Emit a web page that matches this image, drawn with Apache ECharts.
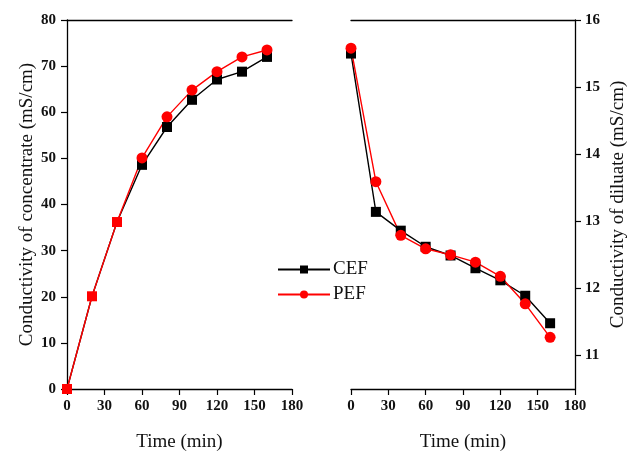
<!DOCTYPE html>
<html><head><meta charset="utf-8">
<script src="https://cdn.jsdelivr.net/npm/echarts@6/dist/echarts.min.js"></script>
<style>html,body{margin:0;padding:0;background:#fff}#c{width:629px;height:452px}</style>
</head><body><div id="c"></div>
<script>
const time = [0, 20, 40, 60, 80, 100, 120, 140, 160];
const concCEF = [0, 20.1, 36.2, 48.6, 56.8, 62.7, 67.1, 68.8, 72.0];
const concPEF = [0, 20.1, 36.2, 50.1, 59.0, 64.8, 68.8, 72.0, 73.5];
const dilCEF = [15.5, 13.14, 12.86, 12.62, 12.49, 12.30, 12.12, 11.89, 11.48];
const dilPEF = [15.58, 13.59, 12.79, 12.59, 12.50, 12.39, 12.18, 11.77, 11.27];
const rightTicks = [11, 12, 13, 14, 15, 16];

const FONT = '"Liberation Serif", "DejaVu Serif", serif';
const pair = (xs, ys) => xs.map((x, i) => [x, ys[i]]);
const tickLbl = {fontFamily: FONT, fontWeight: 'bold', fontSize: 15, color: '#111'};
const axLine = {lineStyle: {color: '#000', width: 1.3}};
const titleStyle = {fontFamily: FONT, fontSize: 19, color: '#111'};
const xBase = (gi) => ({
  type: 'value', gridIndex: gi, min: 0, max: 180, interval: 30,
  axisLine: {show: true, onZero: false, ...axLine},
  axisTick: {show: true, inside: false, length: 6, lineStyle: {color: '#000', width: 1.2}},
  axisLabel: {...tickLbl, margin: 10},
  splitLine: {show: false},
  name: 'Time (min)', nameLocation: 'middle', nameGap: 44,
  nameTextStyle: titleStyle
});
const xTop = (gi) => ({
  type: 'value', gridIndex: gi, position: 'top', min: 0, max: 180,
  axisLine: {show: true, onZero: false, ...axLine},
  axisTick: {show: false}, axisLabel: {show: false}, splitLine: {show: false}
});
const chart = echarts.init(document.getElementById('c'), null, {renderer: 'canvas'});
chart.setOption({
  backgroundColor: '#fff',
  animation: false,
  grid: [
    {left: 67, top: 20, width: 225, height: 369, outerBoundsMode: 'none', containLabel: false},
    {left: 351, top: 20, width: 224, height: 369, outerBoundsMode: 'none', containLabel: false}
  ],
  legend: {
    orient: 'vertical', left: 272, top: 255, itemWidth: 52, itemHeight: 10, itemGap: 6,
    data: ['CEF', 'PEF'],
    textStyle: {fontFamily: FONT, fontSize: 19, color: '#111', padding: [0, 0, 0, -2]}
  },
  xAxis: [xBase(0), xBase(1), xTop(0), xTop(1)],
  yAxis: [
    {type: 'value', gridIndex: 0, min: 0, max: 80, interval: 10,
     axisLine: {show: true, onZero: false, ...axLine},
     axisTick: {show: true, length: 6, lineStyle: {color: '#000', width: 1.2}},
     axisLabel: {...tickLbl, margin: 11}, splitLine: {show: false},
     name: 'Conductivity of concentrate (mS/cm)', nameLocation: 'middle', nameGap: 30,
     nameTextStyle: titleStyle},
    {type: 'value', gridIndex: 1, position: 'right', min: 10.5, max: 16,
     axisLine: {show: true, onZero: false, ...axLine},
     axisTick: {show: true, length: 6, customValues: rightTicks, lineStyle: {color: '#000', width: 1.2}},
     axisLabel: {...tickLbl, margin: 10, customValues: rightTicks}, splitLine: {show: false},
     name: 'Conductivity of diluate (mS/cm)', nameLocation: 'middle', nameGap: 34,
     nameTextStyle: titleStyle}
  ],
  series: [
    {name: 'CEF', type: 'line', xAxisIndex: 0, yAxisIndex: 0, data: pair(time, concCEF),
     symbol: 'rect', symbolSize: 10, color: '#000', lineStyle: {width: 1.4, color: '#000'},
     itemStyle: {color: (p) => p.dataIndex < 3 ? '#ff0000' : '#000'}},
    {name: 'PEF', type: 'line', xAxisIndex: 0, yAxisIndex: 0, data: pair(time, concPEF),
     symbol: (v, p) => p.dataIndex < 3 ? 'none' : 'circle', symbolSize: 11, color: '#ff0000',
     lineStyle: {width: 1.4, color: '#ff0000'}, itemStyle: {color: '#ff0000'}},
    {name: 'CEF', type: 'line', xAxisIndex: 1, yAxisIndex: 1, data: pair(time, dilCEF),
     symbol: 'rect', symbolSize: 10, color: '#000', lineStyle: {width: 1.4, color: '#000'},
     itemStyle: {color: '#000'}},
    {name: 'PEF', type: 'line', xAxisIndex: 1, yAxisIndex: 1, data: pair(time, dilPEF),
     symbol: 'circle', symbolSize: 11, color: '#ff0000', lineStyle: {width: 1.4, color: '#ff0000'},
     itemStyle: {color: '#ff0000'}}
  ]
});
</script></body></html>
